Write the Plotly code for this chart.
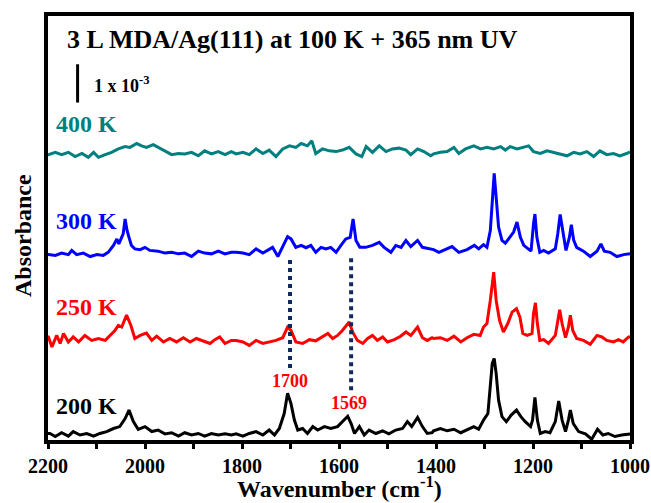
import plotly.graph_objects as go

# y values in units of 1e-3 absorbance (raw spectra, baseline ~0); offsets stack them
wn_400 = [2200, 2199, 2185, 2172, 2158, 2144, 2130, 2117, 2106, 2096, 2082, 2069, 2055, 2041, 2031, 2017, 2007, 1997, 1983, 1969, 1955, 1945, 1931, 1918, 1904, 1890, 1877, 1863, 1849, 1835, 1822,
          1812, 1798, 1785, 1771, 1757, 1744, 1730, 1716, 1702, 1689, 1678, 1665, 1656, 1648, 1634, 1620, 1606, 1593, 1579, 1565, 1553, 1544, 1531, 1517, 1503, 1490, 1476, 1462, 1452, 1438, 1425, 1411,
          1405, 1391, 1377, 1363, 1353, 1339, 1322, 1308, 1295, 1281, 1267, 1257, 1247, 1233, 1219, 1209, 1199, 1185, 1171, 1157, 1144, 1130, 1116, 1103, 1089, 1075, 1062, 1048, 1034, 1021, 1007, 1000]
ab_400 = [-0.05, -0.05, 0.01, -0.05, 0.01, -0.10, -0.02, -0.12, 0.01, -0.12, -0.05, 0.01, 0.10, 0.16, 0.14, 0.24, 0.18, 0.14, 0.21, 0.12, 0.03, -0.05, -0.02, -0.03, 0.01, -0.08, 0.05, -0.03, 0.03, -0.05, 0.03,
          -0.03, 0.01, -0.05, 0.10, -0.02, 0.07, -0.10, 0.10, 0.18, 0.14, 0.24, 0.18, 0.31, -0.02, 0.10, 0.05, 0.03, 0.07, 0.14, -0.03, -0.10, 0.16, 0.01, 0.18, 0.03, 0.10, 0.12, 0.07, -0.05, 0.10, 0.03, -0.08,
          -0.03, 0.01, 0.03, 0.14, -0.02, 0.10, 0.18, 0.10, 0.14, 0.10, 0.16, 0.07, 0.16, 0.10, 0.14, 0.18, 0.03, -0.02, 0.05, 0.01, -0.03, -0.08, 0.01, -0.03, 0.03, -0.10, 0.05, -0.05, -0.02, -0.08, -0.02, 0.02]

wn_300 = [2200, 2199, 2185, 2172, 2158, 2151, 2141, 2127, 2113, 2099, 2086, 2076, 2065, 2058, 2054, 2049, 2045, 2041, 2037, 2033, 2028, 2021, 2010, 2000, 1990, 1973, 1959, 1945, 1931, 1918, 1904, 1890, 1877, 1863, 1849, 1835, 1822,
          1812, 1798, 1785, 1771, 1757, 1744, 1737, 1726, 1716, 1706, 1699, 1689, 1678, 1668, 1658, 1648, 1637, 1627, 1617, 1606, 1596, 1586, 1577, 1571, 1565, 1557, 1545, 1531, 1517, 1507, 1493, 1483, 1472, 1462, 1452, 1438, 1428, 1414,
          1405, 1394, 1384, 1367, 1353, 1336, 1321, 1312, 1302, 1295, 1288, 1284, 1280, 1276, 1271, 1264, 1257, 1248, 1240, 1233, 1226, 1219, 1209, 1204, 1199, 1196, 1192, 1186, 1178, 1168, 1154, 1149, 1144, 1138, 1132, 1125, 1121, 1116, 1110, 1096, 1082, 1068, 1060, 1053, 1041, 1027, 1013, 1000]
ab_300 = [-0.06, -0.06, -0.08, -0.02, -0.06, 0.05, -0.06, -0.02, -0.11, -0.06, -0.08, 0.00, 0.18, 0.35, 0.22, 0.39, 0.48, 0.87, 0.57, 0.39, 0.18, 0.09, 0.07, 0.13, 0.05, 0.03, -0.02, 0.00, -0.04, -0.02, -0.11, 0.03, -0.02, -0.04, 0.03, -0.04, 0.00,
          0.00, -0.02, -0.06, 0.09, -0.02, 0.07, 0.13, -0.11, 0.13, 0.41, 0.35, 0.13, 0.18, 0.12, 0.18, 0.00, 0.13, 0.09, 0.13, 0.00, 0.18, 0.35, 0.39, 0.87, 0.31, 0.13, 0.13, 0.18, 0.26, 0.13, 0.00, 0.18, 0.13, 0.31, 0.15, 0.31, 0.13, 0.09,
          0.07, 0.00, 0.05, 0.15, 0.00, 0.07, 0.18, 0.09, 0.20, 0.13, 0.57, 1.44, 2.06, 1.44, 0.66, 0.31, 0.24, 0.39, 0.53, 0.79, 0.39, 0.18, 0.09, 0.03, 0.74, 1.00, 0.39, 0.00, 0.05, -0.02, 0.09, 0.48, 0.99, 0.48, 0.05, 0.39, 0.72, 0.31, 0.13, 0.03, -0.11, 0.03, 0.22, 0.03, 0.00, -0.11, -0.06, -0.04]

wn_250 = [2200, 2199, 2192, 2182, 2175, 2168, 2158, 2148, 2137, 2124, 2110, 2096, 2082, 2072, 2062, 2055, 2048, 2038, 2029, 2021, 2010, 1997, 1986, 1976, 1962, 1949, 1935, 1921, 1907, 1894, 1880, 1866, 1856, 1846, 1835, 1822,
          1812, 1798, 1785, 1771, 1757, 1744, 1730, 1716, 1706, 1699, 1689, 1675, 1661, 1648, 1634, 1623, 1613, 1603, 1593, 1579, 1572, 1562, 1551, 1541, 1531, 1521, 1510, 1500, 1486, 1473, 1462, 1452, 1438, 1428, 1418, 1408,
          1405, 1391, 1377, 1363, 1349, 1336, 1322, 1309, 1302, 1295, 1288, 1281, 1276, 1269, 1261, 1252, 1243, 1234, 1227, 1221, 1212, 1202, 1199, 1195, 1191, 1186, 1178, 1168, 1154, 1149, 1145, 1140, 1133, 1127, 1123, 1118, 1110, 1096, 1082, 1068, 1058, 1048, 1034, 1024, 1014, 1003, 1000]
ab_250 = [0.04, 0.04, -0.22, 0.08, -0.13, 0.13, -0.09, 0.04, -0.09, 0.08, -0.05, 0.00, -0.05, 0.08, 0.21, 0.34, 0.30, 0.61, 0.34, 0.00, 0.08, 0.14, -0.05, 0.06, -0.09, 0.00, -0.09, 0.02, -0.09, 0.00, -0.06, -0.13, -0.03, 0.04, -0.13, -0.05,
          -0.05, -0.09, -0.18, -0.05, -0.13, -0.09, -0.05, 0.02, 0.30, 0.21, -0.09, -0.13, -0.03, -0.06, 0.04, 0.13, 0.00, 0.08, 0.21, 0.43, 0.17, -0.05, -0.13, 0.00, 0.08, -0.05, 0.04, -0.09, -0.03, 0.06, 0.17, 0.08, 0.30, 0.02, -0.05, 0.02,
          0.00, 0.02, -0.05, 0.06, -0.09, 0.02, 0.11, 0.08, 0.30, 0.39, 1.00, 1.73, 1.00, 0.47, 0.17, 0.39, 0.69, 0.78, 0.56, 0.13, 0.08, 0.13, 0.65, 0.93, 0.39, -0.05, -0.03, -0.13, 0.08, 0.47, 0.75, 0.39, 0.02, 0.30, 0.61, 0.21, 0.00, -0.05, -0.15, 0.08, 0.04, -0.05, -0.09, -0.03, -0.09, 0.04, 0.04]

wn_200 = [2200, 2196, 2185, 2172, 2158, 2148, 2134, 2120, 2106, 2093, 2079, 2065, 2052, 2041, 2033, 2024, 2014, 2000, 1986, 1973, 1959, 1945, 1931, 1918, 1904, 1890, 1877, 1863, 1849, 1835, 1822,
          1812, 1798, 1785, 1771, 1757, 1744, 1733, 1723, 1713, 1706, 1699, 1692, 1685, 1675, 1665, 1654, 1644, 1630, 1617, 1603, 1593, 1582, 1575, 1568, 1558, 1548, 1538, 1524, 1510, 1497, 1483, 1469, 1459, 1450, 1438, 1428, 1418, 1408,
          1405, 1391, 1377, 1363, 1349, 1336, 1322, 1312, 1302, 1293, 1288, 1284, 1280, 1276, 1271, 1264, 1255, 1245, 1234, 1225, 1216, 1205, 1201, 1196, 1191, 1185, 1175, 1165, 1154, 1147, 1140, 1133, 1127, 1123, 1117, 1106, 1092, 1079, 1067, 1056, 1045, 1031, 1017, 1003, 1000]
ab_200 = [0.02, 0.02, -0.06, 0.04, -0.05, 0.07, -0.02, 0.02, -0.05, 0.02, 0.07, 0.15, 0.20, 0.41, 0.63, 0.33, 0.13, 0.20, 0.07, 0.11, 0.01, 0.04, -0.05, 0.04, -0.02, 0.02, -0.05, 0.02, -0.02, 0.01, -0.02,
          0.01, -0.05, 0.02, 0.07, -0.02, 0.11, -0.02, 0.15, 0.54, 1.07, 0.80, 0.37, 0.11, 0.15, 0.02, 0.20, 0.11, 0.20, 0.15, 0.20, 0.33, 0.47, 0.28, 0.02, 0.20, -0.02, 0.11, 0.02, 0.09, 0.01, 0.11, 0.15, 0.33, 0.20, 0.44, 0.20, 0.02, 0.04,
          0.09, 0.15, 0.09, 0.13, 0.04, 0.11, 0.20, 0.13, 0.37, 0.54, 1.24, 1.85, 1.98, 1.59, 0.89, 0.46, 0.33, 0.50, 0.63, 0.46, 0.33, 0.20, 0.37, 0.96, 0.37, 0.02, 0.07, 0.04, 0.33, 0.87, 0.37, 0.07, 0.37, 0.63, 0.28, 0.07, 0.01, -0.13, 0.13, -0.02, 0.02, -0.06, -0.02, 0.01, 0.01]

series = [
    ("400 K", wn_400, ab_400, 7.50, "#007F7F"),
    ("300 K", wn_300, ab_300, 4.90, "#0000FF"),
    ("250 K", wn_250, ab_250, 2.65, "#FF0000"),
    ("200 K", wn_200, ab_200, 0.15, "#000000"),
]
label_y = [8.26, 5.73, 3.47, 0.90]

peak_labels = ["1700", "1569"]
peak_line_x = [1701, 1575]
peak_line_y0 = [1.88, 1.30]
peak_line_y1 = [4.74, 4.84]
peak_label_x = [1701, 1580]
peak_label_y = [1.54, 0.96]

scale_bar_len = 1.0  # 1 x 10^-3
scale_bar_x = 2139
scale_bar_y0 = 8.81

Y_MAX = 11.07
SERIF = "Liberation Serif"

fig = go.Figure()
for name, wn, ab, off, col in series:
    fig.add_trace(go.Scatter(x=wn, y=[v + off for v in ab], mode="lines", name=name,
                             line=dict(color=col, width=3), showlegend=False))

anns = []
for (name, wn, ab, off, col), ly in zip(series, label_y):
    anns.append(dict(x=2187, y=ly, xref="x", yref="y", text="<b>" + name + "</b>", showarrow=False,
                     xanchor="left", yanchor="middle", font=dict(family=SERIF, size=24, color=col)))

for lab, lx, ly in zip(peak_labels, peak_label_x, peak_label_y):
    anns.append(dict(x=lx, y=ly, xref="x", yref="y", text="<b>" + lab + "</b>", showarrow=False,
                     xanchor="center", yanchor="middle", font=dict(family=SERIF, size=18, color="#FF0000")))

shapes = []
for x, y0, y1 in zip(peak_line_x, peak_line_y0, peak_line_y1):
    shapes.append(dict(type="line", xref="x", yref="y", x0=x, x1=x, y0=y0, y1=y1,
                       line=dict(color="#0D2A5C", width=4, dash="dot")))
shapes.append(dict(type="line", xref="x", yref="y", x0=scale_bar_x, x1=scale_bar_x,
                   y0=scale_bar_y0, y1=scale_bar_y0 + scale_bar_len, line=dict(color="black", width=3)))

anns.append(dict(x=2109, y=9.28, xref="x", yref="y", text="<b>1 x 10<sup>-3</sup></b>", showarrow=False,
                 xanchor="left", yanchor="middle", font=dict(family=SERIF, size=18, color="black")))
anns.append(dict(x=2165, y=10.46, xref="x", yref="y", text="<b>3 L MDA/Ag(111) at 100 K + 365 nm UV</b>",
                 showarrow=False, xanchor="left", yanchor="middle", font=dict(family=SERIF, size=26, color="black")))
anns.append(dict(x=-0.044, y=0.482, xref="paper", yref="paper", text="<b>Absorbance</b>", showarrow=False,
                 textangle=-90, xanchor="center", yanchor="middle", font=dict(family=SERIF, size=24, color="black")))
anns.append(dict(x=0.5, y=-0.148, xref="paper", yref="paper", text="<b>Wavenumber (cm<sup>-1</sup>)</b>",
                 showarrow=False, xanchor="center", yanchor="bottom", borderpad=0,
                 font=dict(family=SERIF, size=24, color="black")))

fig.update_layout(
    width=651, height=503,
    margin=dict(l=48, r=21, t=16, b=63, autoexpand=False),
    paper_bgcolor="white", plot_bgcolor="white",
    shapes=shapes, annotations=anns,
    xaxis=dict(range=[2200, 1000], dtick=200, tick0=1000, showgrid=False, zeroline=False, automargin=False,
               showline=True, linewidth=4, linecolor="black", mirror=True,
               ticks="outside", ticklen=5, tickwidth=3, tickcolor="black",
               minor=dict(dtick=100, tick0=1000, ticks="outside", ticklen=5, tickwidth=3, tickcolor="black"),
               tickfont=dict(family=SERIF, size=20, color="black", weight="bold")),
    yaxis=dict(range=[0, Y_MAX], showticklabels=False, ticks="", showgrid=False, zeroline=False, automargin=False,
               showline=True, linewidth=4, linecolor="black", mirror=True),
)

fig.write_html("out.html")
